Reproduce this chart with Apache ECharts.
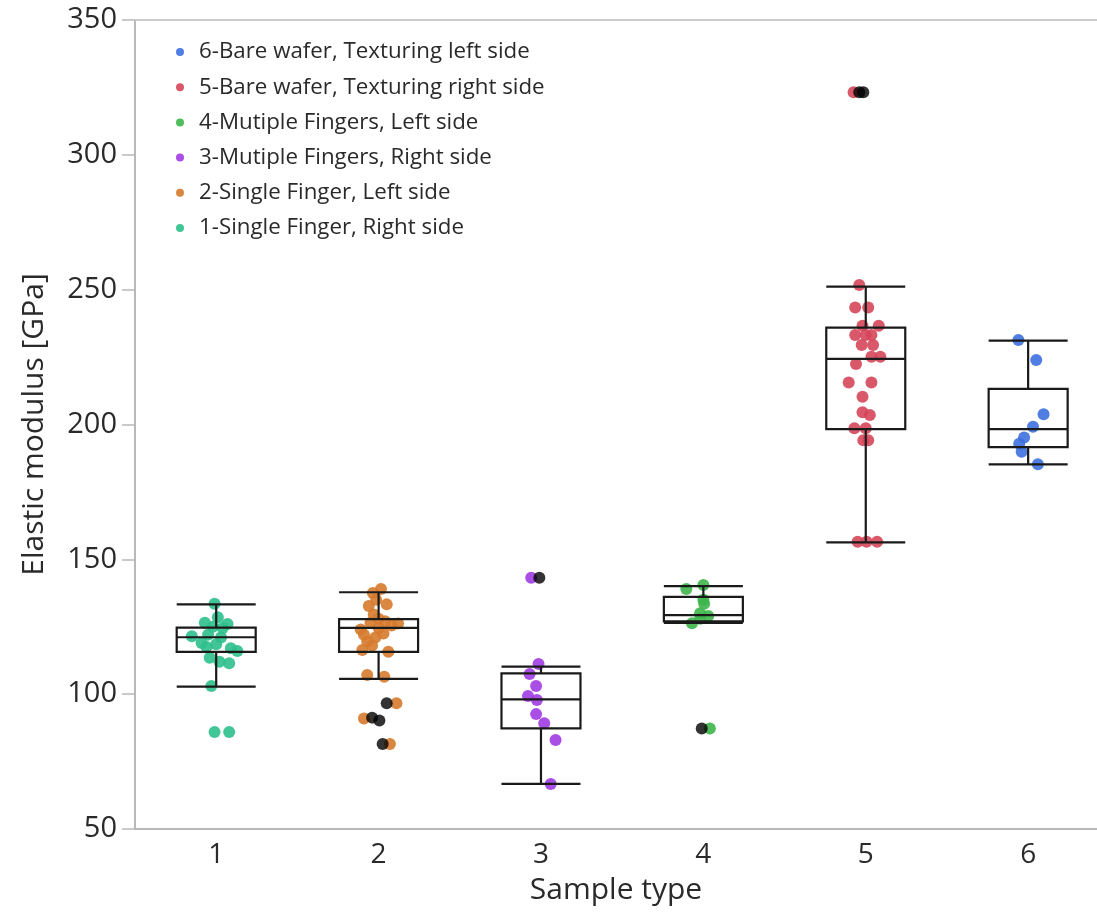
<!DOCTYPE html>
<html><head><meta charset="utf-8">
<script src="https://cdn.jsdelivr.net/npm/echarts@6/dist/echarts.min.js"></script>
<style>html,body{margin:0;padding:0;background:#fff}#c{width:1097px;height:915px}</style>
</head><body><div id="c"></div>
<script>
// ---------- data ----------
const sampleTicks = [1, 2, 3, 4, 5, 6];
const yTicks = [50, 100, 150, 200, 250, 300, 350];
const seriesNames = [
  '1-Single Finger, Right side',
  '2-Single Finger, Left side',
  '3-Mutiple Fingers, Right side',
  '4-Mutiple Fingers, Left side',
  '5-Bare wafer, Texturing right side',
  '6-Bare wafer, Texturing left side'
];
const seriesColors = ['#2dbf8c', '#d67a2c', '#a03ce3', '#3db549', '#d5465a', '#3e70e0'];

// jitter offsets (in sample-type units) and elastic modulus values [GPa]
const g1Jitter = [-0.01, 0.01, -0.07, 0.07, -0.02, 0.04, -0.15, -0.05, 0.03, -0.09, 0.0, -0.06, 0.09, 0.13, -0.04, 0.02, 0.08, -0.03, -0.01, 0.08];
const g1Values = [133.5, 128.5, 126.5, 126, 125, 124.5, 121.5, 122, 121, 119, 118.5, 117.5, 117, 116, 113.5, 112, 111.5, 103, 86, 86];

const g2Jitter = [0.015, -0.035, -0.015, -0.06, 0.05, -0.03, 0.0, 0.04, 0.12, -0.05, -0.11, 0.0, 0.08, -0.09, -0.02, 0.03, -0.07, -0.04, -0.1, 0.06, -0.07, 0.035, 0.11, -0.09, 0.07];
const g2Values = [139, 137.5, 135, 132.7, 133.3, 129.5, 128, 127, 126.2, 126.5, 124, 124.5, 125.5, 122, 121, 122.5, 119.5, 118, 116.4, 115.7, 107.1, 106.5, 96.6, 91, 81.5];

const g3Jitter = [-0.015, -0.07, -0.03, -0.08, -0.025, -0.03, 0.02, 0.09, 0.06, -0.06];
const g3Values = [111.2, 107.5, 103, 99.3, 97.8, 92.6, 89.2, 83, 66.7, 143.2];

const g4Jitter = [-0.105, 0.0, 0.0, 0.005, -0.02, 0.03, -0.07, -0.02, 0.04];
const g4Values = [139, 140.5, 135, 133.5, 130, 129, 126.3, 128, 87.3];

const g5Jitter = [-0.04, -0.065, 0.015, -0.02, 0.08, -0.065, 0.0, 0.035, -0.025, 0.045, 0.035, 0.09, -0.06, -0.105, 0.035, -0.02, -0.02, 0.025, -0.07, 0.0, -0.015, 0.015, -0.05, 0.005, 0.07, -0.075];
const g5Values = [251.7, 243.4, 243.4, 236.6, 236.6, 233.2, 233.2, 233.2, 229.5, 229.5, 225.1, 225.1, 222.4, 215.6, 215.6, 210.3, 204.5, 203.5, 198.6, 198.6, 194.2, 194.2, 156.5, 156.5, 156.5, 323.2];

const g6Jitter = [-0.06, 0.05, 0.095, 0.03, -0.025, -0.055, -0.04, 0.06];
const g6Values = [231.3, 223.9, 203.8, 199.2, 195.2, 192.9, 189.9, 185.3];

// box statistics: [lower whisker, Q1, median, Q3, upper whisker]
const boxStats = [
  [102.8, 115.7, 121.1, 124.7, 133.3],
  [105.7, 115.7, 124.6, 127.8, 137.8],
  [66.7, 87.3, 98.1, 107.7, 110.2],
  [126.4, 127.0, 129.3, 136.1, 140.1],
  [156.3, 198.3, 224.3, 235.9, 251.1],
  [185.2, 191.6, 198.3, 213.2, 231.1]
];

// outliers (black), by sample type
const outlierSample = [2, 2, 2, 2, 3, 4, 5, 5];
const outlierJitter = [0.05, -0.04, 0.005, 0.025, -0.01, -0.01, -0.04, -0.015];
const outlierValues = [96.6, 91.3, 90.2, 81.5, 143.2, 87.3, 323.2, 323.2];

// ---------- chart ----------
const groupJitter = [g1Jitter, g2Jitter, g3Jitter, g4Jitter, g5Jitter, g6Jitter];
const groupValues = [g1Values, g2Values, g3Values, g4Values, g5Values, g6Values];

const tickFont = "'Open Sans', 'Noto Sans', sans-serif";

const scatterSeries = sampleTicks.map((s, i) => ({
  type: 'scatter',
  name: seriesNames[i],
  xAxisIndex: 0, yAxisIndex: 0,
  symbol: 'circle',
  symbolSize: 12,
  z: 2,
  itemStyle: { color: seriesColors[i], opacity: 0.9 },
  emphasis: { disabled: true },
  data: groupValues[i].map((v, k) => [s + groupJitter[i][k], v])
}));

const chart = echarts.init(document.getElementById('c'), null, { renderer: 'canvas' });
chart.setOption({
  animation: false,
  backgroundColor: '#ffffff',
  grid: { left: 135, top: 20, right: 0, bottom: 86, containLabel: false },
  legend: {
    orient: 'vertical',
    left: 171, top: 34,
    itemWidth: 8, itemHeight: 8,
    itemGap: 9.2,
    icon: 'circle',
    data: seriesNames.slice().reverse(),
    textStyle: { fontFamily: tickFont, fontSize: 22.3, color: '#2a2a2a', lineHeight: 26, padding: [0, 0, 0, 10] }
  },
  xAxis: [{
    type: 'value',
    min: 0.5, max: 6.424,
    name: 'Sample type',
    nameLocation: 'middle',
    nameGap: 46,
    nameTextStyle: { fontFamily: tickFont, fontSize: 30, color: '#2a2a2a' },
    axisLine: { show: true, lineStyle: { color: '#b8b8b8', width: 2 } },
    axisTick: { show: false },
    splitLine: { show: false },
    axisLabel: {
      customValues: sampleTicks,
      fontFamily: tickFont, fontSize: 28, color: '#2a2a2a', margin: 12
    }
  }, {
    type: 'value', position: 'top',
    min: 0.5, max: 6.424,
    axisLine: { show: true, onZero: false, lineStyle: { color: '#cccccc', width: 2 } },
    axisTick: { show: false }, axisLabel: { show: false }, splitLine: { show: false }
  }],
  yAxis: {
    type: 'value',
    min: 50, max: 350, interval: 50,
    name: 'Elastic modulus [GPa]',
    nameLocation: 'middle',
    nameGap: 86,
    nameTextStyle: { fontFamily: tickFont, fontSize: 30, color: '#2a2a2a' },
    axisLine: { show: true, lineStyle: { color: '#b8b8b8', width: 2 } },
    axisTick: { show: true, length: 13, lineStyle: { color: '#b8b8b8', width: 1.5 } },
    splitLine: { show: false },
    axisLabel: {
      customValues: yTicks,
      fontFamily: tickFont, fontSize: 29, color: '#2a2a2a', margin: 18
    }
  },
  series: [
    ...scatterSeries,
    {
      type: 'boxplot',
      xAxisIndex: 0, yAxisIndex: 0,
      z: 3,
      boxWidth: [79, 79],
      itemStyle: { color: 'rgba(0,0,0,0)', borderColor: '#1a1a1a', borderWidth: 2.2 },
      emphasis: { disabled: true },
      data: boxStats.map((b, i) => [sampleTicks[i]].concat(b))
    },
    {
      type: 'scatter',
      name: 'outliers',
      xAxisIndex: 0, yAxisIndex: 0,
      symbolSize: 12,
      z: 4,
      itemStyle: { color: '#000000' },
      emphasis: { disabled: true },
      data: outlierValues.map((v, k) => [outlierSample[k] + outlierJitter[k], v])
    }
  ]
});
</script></body></html>
